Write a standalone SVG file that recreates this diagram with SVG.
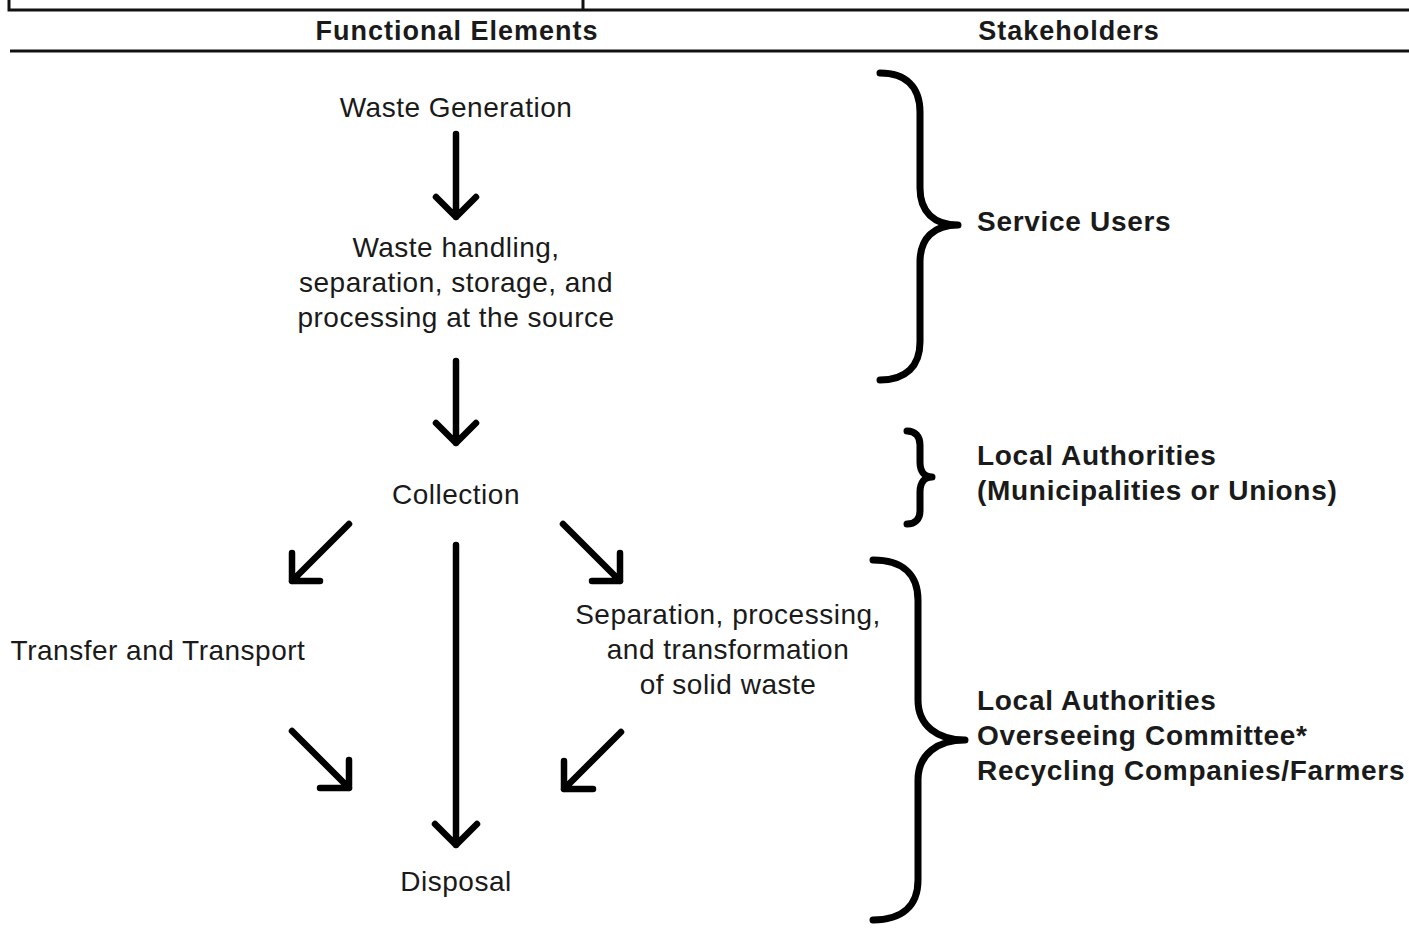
<svg xmlns="http://www.w3.org/2000/svg" width="1409" height="930" viewBox="0 0 1409 930">
  <style>
    .rule { stroke: #111; stroke-width: 3; fill: none; }
    .head { font-family: "Liberation Sans", Arial, sans-serif; font-weight: bold; font-size: 27px; letter-spacing: 1px; fill: #1a1a1a; text-anchor: middle; }
    .lbl { font-family: "Liberation Sans", Arial, sans-serif; font-size: 28px; letter-spacing: 0.5px; fill: #1a1a1a; text-anchor: middle; }
    .stk { font-family: "Liberation Sans", Arial, sans-serif; font-weight: bold; font-size: 28px; letter-spacing: 0.7px; fill: #1a1a1a; }
    .arr { stroke: #000; stroke-width: 6.5; fill: none; stroke-linecap: round; stroke-linejoin: round; }
    .brace { stroke: #000; stroke-width: 7; fill: none; stroke-linecap: round; stroke-linejoin: round; }
  </style>
  <rect width="1409" height="930" fill="#fff"/>

  <!-- table header rules -->
  <g id="header">
    <path class="rule" d="M9 0 V10 H1409 M583 0 V10"/>
    <path class="rule" d="M10 51 H1409"/>
    <text class="head" x="457" y="40">Functional Elements</text>
    <text class="head" x="1069" y="40">Stakeholders</text>
  </g>

  <!-- functional elements -->
  <g id="waste-generation"><text class="lbl" x="456" y="117">Waste Generation</text></g>
  <g id="handling">
    <text class="lbl" x="456" y="257">Waste handling,</text>
    <text class="lbl" x="456" y="292">separation, storage, and</text>
    <text class="lbl" x="456" y="327">processing at the source</text>
  </g>
  <g id="collection"><text class="lbl" x="456" y="504">Collection</text></g>
  <g id="transfer"><text class="lbl" x="158" y="660">Transfer and Transport</text></g>
  <g id="separation">
    <text class="lbl" x="728" y="624">Separation, processing,</text>
    <text class="lbl" x="728" y="659">and transformation</text>
    <text class="lbl" x="728" y="694">of solid waste</text>
  </g>
  <g id="disposal"><text class="lbl" x="456" y="891">Disposal</text></g>

  <!-- flow arrows -->
  <g id="connectors">
    <path class="arr" d="M456 134 V217 M436 197 L456 217 L476 197"/>
    <path class="arr" d="M456 361 V443 M436 423 L456 443 L476 423"/>
    <path class="arr" d="M349 524 L292 581 M292 553 V581 H320"/>
    <path class="arr" d="M563 524 L620 581 M620 553 V581 H592"/>
    <path class="arr" d="M456 545 V845 M435 824 L456 845 L477 824"/>
    <path class="arr" d="M292 731 L349 788 M349 760 V788 H320"/>
    <path class="arr" d="M621 732 L564 789 M564 761 V789 H593"/>
  </g>

  <!-- stakeholder braces -->
  <g id="service-users">
    <path class="brace" d="M880 73 C906 73 920 87 920 112 L920 188 C920 212 934 225 958 225 C934 225 920 238 920 262 L920 342 C920 366 906 380 880 380"/>
    <text class="stk" x="977" y="231">Service Users</text>
  </g>
  <g id="local-authorities">
    <path class="brace" d="M907 431 C915 431 920 436 920 445 L920 462 C920 472 925 477 932 477 C925 477 920 482 920 492 L920 511 C920 519 915 524 907 524"/>
    <text class="stk" x="977" y="465">Local Authorities</text>
    <text class="stk" x="977" y="500">(Municipalities or Unions)</text>
  </g>
  <g id="processing-stakeholders">
    <path class="brace" d="M873 560 C902 560 918 574 918 600 L918 700 C918 726 938 740 965 740 C938 740 918 754 918 780 L918 880 C918 906 902 920 873 920"/>
    <text class="stk" x="977" y="710">Local Authorities</text>
    <text class="stk" x="977" y="745">Overseeing Committee*</text>
    <text class="stk" x="977" y="780">Recycling Companies/Farmers</text>
  </g>
</svg>
